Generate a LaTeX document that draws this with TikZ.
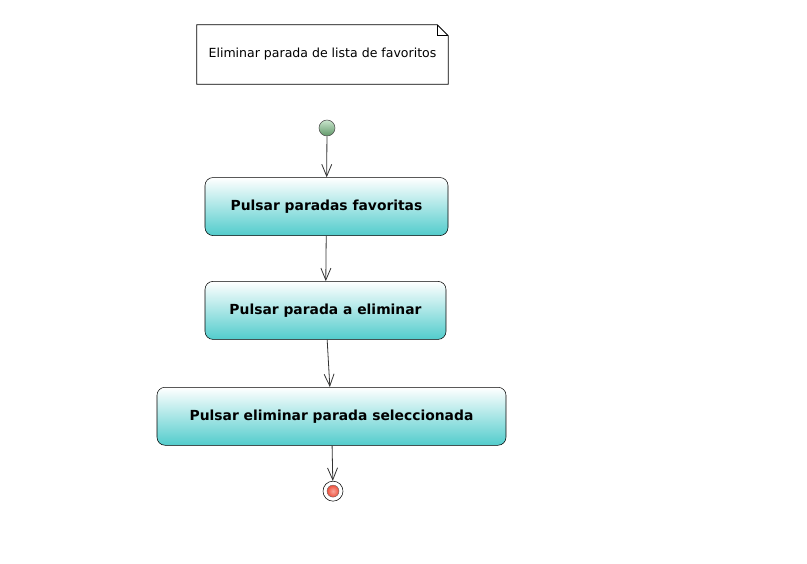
\documentclass[tikz,border=0pt]{standalone}
\usepackage{fontspec}
\setmainfont{DejaVu Sans}
\usetikzlibrary{arrows.meta,positioning,shapes.geometric}
\definecolor{actcyan}{RGB}{82,204,204}
\definecolor{startgreen}{RGB}{120,190,130}
\definecolor{endred}{RGB}{240,80,60}
\tikzset{
 action/.style={
 rectangle,
 rounded corners=6pt,
 draw=black,
 top color=white,
 bottom color=actcyan,
 align=center,
 minimum height=43.5pt,
 inner sep=0pt,
 font=\bfseries\fontsize{10.4}{12}\selectfont
 },
 notebox/.style={
 rectangle,
 minimum width=188.25pt,
 minimum height=44.25pt,
 inner sep=0pt,
 font=\fontsize{9.4}{11}\selectfont
 },
 startnode/.style={
 circle,
 draw=black!70,
 top color=startgreen!40,
 bottom color=startgreen!80!black,
 minimum size=12pt,
 inner sep=0pt
 },
 endnode/.style={
 circle,
 draw=black,
 fill=white,
 minimum size=15pt,
 inner sep=0pt
 },
 flowarrow/.style={-{Straight Barb[length=9pt,width=7.5pt,line width=0.6pt]}, draw=black!80, line width=0.6pt}
}

\begin{document}
\begin{tikzpicture}[x=0.75pt, y=-0.75pt]
	\useasboundingbox (0,0) rectangle (807,564);
	\fill[white] (0,0) rectangle (807,564);

	\node[notebox] (note) at (322.5,54.5) {Eliminar parada de lista de favoritos};
	\draw[line width=0.6pt] (note.north west) -- ([xshift=-8.25pt]note.north east) -- ([yshift=-8.25pt]note.north east) -- (note.south east) -- (note.south west) -- cycle;
	\draw[line width=0.6pt] ([xshift=-8.25pt]note.north east) -- ([xshift=-8.25pt,yshift=-8.25pt]note.north east) -- ([yshift=-8.25pt]note.north east);

	\node[startnode] (start) at (327,128) {};
	\node[action, minimum width=182.25pt, below=30.75pt of start, xshift=-0.375pt] (fav) {Pulsar paradas favoritas};
	\node[action, minimum width=180.75pt, below=34pt of fav, xshift=-0.75pt] (pick) {Pulsar parada a eliminar};
	\node[action, minimum width=261.75pt, below=35.5pt of pick, xshift=4.5pt] (del) {Pulsar eliminar parada seleccionada};
	\node[endnode, below=26.5pt of del, xshift=1.125pt] (stop) {};
	\draw[black!60, line width=0.3pt, inner color=endred!50!white, outer color=endred] (stop.center) circle (4.5pt);

	\draw[flowarrow] (start) -- (fav);
	\draw[flowarrow] (fav) -- (pick);
	\draw[flowarrow] (pick) -- (del);
	\draw[flowarrow] (del) -- (stop);
\end{tikzpicture}
\end{document}
